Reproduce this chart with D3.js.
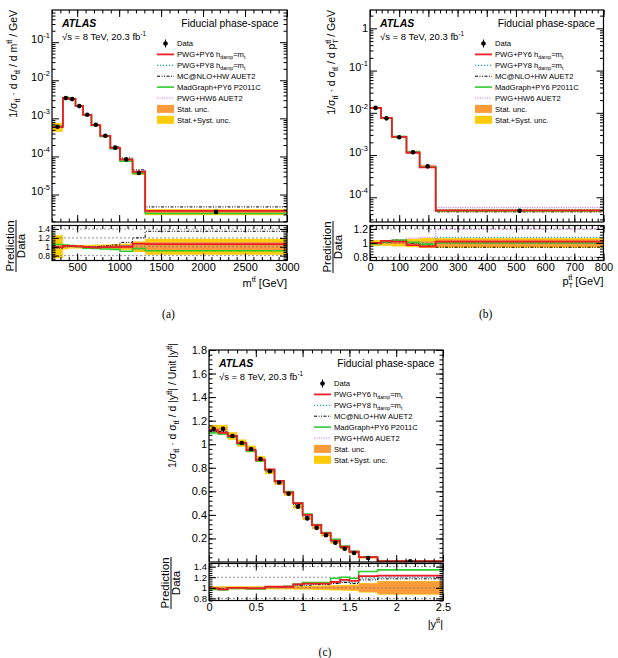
<!DOCTYPE html>
<html>
<head>
<meta charset="utf-8">
<script src="https://cdn.jsdelivr.net/npm/d3@7"></script>
<style>
  body { margin: 0; background: #fff; }
  svg text { font-family: "Liberation Sans", Arial, sans-serif; fill: #000; }
</style>
</head>
<body>
<svg id="fig" width="618" height="658"></svg>
<script>
// ---- m(tt) panel ----
const mttEdges = [200, 330, 400, 480, 570, 670, 775, 895, 1010, 1160, 1310, 3000];
const mttData = [6.0e-4, 3.4e-3, 3.2e-3, 2.1e-3, 1.24e-3, 6.8e-4, 3.5e-4, 1.7e-4, 8.3e-5, 3.7e-5, 3.5e-6];
const mttStat = [0.03, 0.01, 0.01, 0.01, 0.012, 0.015, 0.02, 0.03, 0.04, 0.08, 0.1];
const mttTotal = [0.26, 0.06, 0.04, 0.04, 0.04, 0.05, 0.05, 0.06, 0.07, 0.12, 0.18];
const mttPwgPy6 = [0.99, 1.02, 1.02, 1.01, 0.99, 0.98, 0.99, 0.99, 1.0, 1.07, 1.06];
const mttPwgPy8 = [0.98, 1.01, 1.02, 1.01, 1.0, 0.99, 1.0, 1.0, 1.02, 1.06, 1.05];
const mttMcnlo = [0.97, 1.0, 1.01, 1.01, 1.0, 1.0, 1.02, 1.04, 1.1, 1.2, 1.35];
const mttMadgraph = [1.05, 1.04, 1.03, 1.0, 0.97, 0.96, 0.95, 0.94, 0.9, 0.96, 0.91];
const mttPwgHw6 = [0.98, 1.01, 1.02, 1.01, 1.0, 1.0, 1.0, 1.0, 1.03, 1.06, 1.08];

// ---- pT(tt) panel ----
const ptEdges = [0, 38, 75, 125, 170, 225, 800];
const ptData = [1.31e-2, 7.4e-3, 2.65e-3, 1.17e-3, 5.4e-4, 4.8e-5];
const ptStat = [0.01, 0.01, 0.015, 0.02, 0.025, 0.05];
const ptTotal = [0.04, 0.04, 0.05, 0.06, 0.07, 0.07];
const ptPwgPy6 = [1.0, 1.03, 1.02, 0.97, 0.95, 1.02];
const ptPwgPy8 = [1.0, 1.02, 1.03, 1.0, 0.99, 1.08];
const ptMcnlo = [0.99, 1.01, 1.04, 1.0, 0.96, 0.94];
const ptMadgraph = [0.99, 1.02, 1.04, 1.01, 0.98, 1.0];
const ptPwgHw6 = [1.0, 1.01, 1.05, 1.07, 1.08, 1.2];

// ---- |y(tt)| panel ----
const yEdges = [0, 0.1, 0.2, 0.3, 0.4, 0.5, 0.6, 0.7, 0.8, 0.9, 1.0, 1.1, 1.2, 1.3, 1.4, 1.5, 1.6, 1.8, 2.5];
const yData = [1.13, 1.13, 1.07, 1.01, 0.96, 0.875, 0.77, 0.675, 0.58, 0.47, 0.37, 0.29, 0.227, 0.164, 0.113, 0.077, 0.034, 0.006];
const yStat = [0.01, 0.01, 0.01, 0.01, 0.01, 0.01, 0.01, 0.015, 0.015, 0.015, 0.02, 0.02, 0.025, 0.03, 0.035, 0.04, 0.08, 0.12];
const yTotal = [0.03, 0.03, 0.03, 0.03, 0.03, 0.03, 0.03, 0.03, 0.03, 0.035, 0.035, 0.04, 0.045, 0.05, 0.055, 0.06, 0.09, 0.13];
const yPwgPy6 = [0.99, 0.97, 1.0, 1.0, 0.99, 0.99, 1.02, 1.02, 1.02, 1.065, 1.08, 1.08, 1.08, 1.11, 1.15, 1.13, 1.22, 1.23];
const yPwgPy8 = [0.98, 0.97, 1.0, 1.0, 0.99, 0.99, 1.01, 1.02, 1.02, 1.05, 1.07, 1.07, 1.07, 1.09, 1.12, 1.1, 1.18, 1.2];
const yMcnlo = [0.98, 0.98, 1.0, 1.0, 0.99, 0.99, 1.01, 1.01, 1.02, 1.04, 1.05, 1.06, 1.06, 1.08, 1.1, 1.08, 1.15, 1.17];
const yMadgraph = [0.97, 0.96, 0.99, 0.99, 0.98, 0.98, 1.01, 1.02, 1.03, 1.07, 1.1, 1.1, 1.1, 1.18, 1.2, 1.18, 1.31, 1.34];
const yPwgHw6 = [0.99, 0.98, 1.0, 1.0, 0.99, 1.0, 1.02, 1.02, 1.03, 1.06, 1.08, 1.08, 1.09, 1.12, 1.15, 1.14, 1.21, 1.22];

const legendNames = [
  [['PWG+PY6 h'], ['damp', 'sub'], ['=m'], ['t', 'sub']],
  [['PWG+PY8 h'], ['damp', 'sub'], ['=m'], ['t', 'sub']],
  [['MC@NLO+HW AUET2']],
  [['MadGraph+PY6 P2011C']],
  [['PWG+HW6 AUET2']]
];

// line styles, same order as legendNames
const STYLES = [
  { color: '#ee1c25', width: 1.8, dash: null },
  { color: '#1aa6a6', width: 1.2, dash: '1.2,1.8' },
  { color: '#000', width: 1, dash: '3,1.5,1,1.5,1,1.5' },
  { color: '#2ecc2e', width: 1.6, dash: null },
  { color: '#d67ad6', width: 1, dash: '1.2,1.2' }
];
const DRAW_ORDER = [4, 1, 2, 3, 0];
const STAT_COL = '#fd9a3a';
const TOT_COL = '#fecb0a';
const TT = 'tt\u0304';

const svg = d3.select('#fig');

// text with sub/superscripts: parts = [[string, 'sub'|'sup'|undefined, dx]]
function rich(text, parts, size) {
  let cur = 0;
  text.attr('font-size', size);
  for (const [s, kind, dx] of parts) {
    const off = kind === 'sub' ? 0.3 * size : kind === 'sup' ? -0.42 * size : 0;
    const t = text.append('tspan')
      .attr('dy', (off - cur).toFixed(2))
      .attr('font-size', kind ? 0.68 * size : size)
      .text(s);
    if (dx) t.attr('dx', dx);
    cur = off;
  }
}

function logTicks(domain) {
  const major = [], minor = [];
  for (let e = -8; e <= 2; e++) {
    for (let k = 1; k <= 9; k++) {
      const v = k * Math.pow(10, e);
      if (v < domain[0] * 1.001 || v > domain[1] * 0.999) continue;
      (k === 1 ? major : minor).push(v);
    }
  }
  return { major, minor };
}

function stepPoints(edges, vals) {
  return vals.flatMap((v, i) => [[edges[i], v], [edges[i + 1], v]]);
}

// ticks on all four sides, pointing inward
function frameAxes(g, x, y, box, o) {
  const [x0, x1, y0, y1] = box;
  const clean = s => s.select('.domain').remove();
  const put = (axis, tr) => g.append('g').attr('transform', tr).call(axis).call(clean);

  put(d3.axisBottom(x).tickValues(o.xMinor).tickSize(-3.5).tickFormat(''), `translate(0,${y1})`);
  put(d3.axisTop(x).tickValues(o.xMinor).tickSize(-3.5).tickFormat(''), `translate(0,${y0})`);
  const xb = put(d3.axisBottom(x).tickValues(o.xMajor).tickSize(-7).tickPadding(3)
    .tickFormat(o.xLabels ? o.xFormat : ''), `translate(0,${y1})`);
  xb.selectAll('text').attr('font-size', 11);
  put(d3.axisTop(x).tickValues(o.xMajor).tickSize(-7).tickFormat(''), `translate(0,${y0})`);

  put(d3.axisLeft(y).tickValues(o.yMinor).tickSize(-3.5).tickFormat(''), `translate(${x0},0)`);
  put(d3.axisRight(y).tickValues(o.yMinor).tickSize(-3.5).tickFormat(''), `translate(${x1},0)`);
  const yl = put(d3.axisLeft(y).tickValues(o.yMajor).tickSize(-7).tickPadding(2)
    .tickFormat(o.yLog ? () => '' : o.yFormat), `translate(${x0},0)`);
  yl.selectAll('text').attr('font-size', o.yFont || 11);
  if (o.yLog) {
    yl.selectAll('.tick text').each(function (d) {
      const e = Math.round(Math.log10(d));
      if (e === 0) d3.select(this).append('tspan').text('1');
      else rich(d3.select(this), [['10'], [String(e), 'sup']], 11);
    });
  }
  put(d3.axisRight(y).tickValues(o.yMajor).tickSize(-7).tickFormat(''), `translate(${x1},0)`);
  g.selectAll('.tick line').attr('stroke', '#000').attr('stroke-width', 1);

  g.append('rect').attr('x', x0).attr('y', y0).attr('width', x1 - x0).attr('height', y1 - y0)
    .attr('fill', 'none').attr('stroke', '#000').attr('stroke-width', 1.2);
}

function drawPanel(p) {
  const g = svg.append('g');
  const x = d3.scaleLinear().domain(p.xDomain).range([p.x0, p.x1]);
  const y = (p.log ? d3.scaleLog() : d3.scaleLinear()).domain(p.yDomain).range([p.y1, p.y0]);
  const r = d3.scaleLinear().domain(p.rDomain).range([p.r1, p.r0]);

  const clipMain = 'clipm' + p.id, clipRatio = 'clipr' + p.id;
  const defs = g.append('defs');
  defs.append('clipPath').attr('id', clipMain).append('rect')
    .attr('x', p.x0).attr('y', p.y0).attr('width', p.x1 - p.x0).attr('height', p.y1 - p.y0);
  defs.append('clipPath').attr('id', clipRatio).append('rect')
    .attr('x', p.x0).attr('y', p.r0).attr('width', p.x1 - p.x0).attr('height', p.r1 - p.r0);

  const bins = p.data.map((v, i) => ({ a: p.edges[i], b: p.edges[i + 1], v, st: p.stat[i], tot: p.total[i] }));

  // ---- main pad ----
  const main = g.append('g').attr('clip-path', `url(#${clipMain})`);
  [['tot', TOT_COL], ['st', STAT_COL]].forEach(([k, col]) => {
    main.selectAll('rect.' + k).data(bins).join('rect').attr('class', k)
      .attr('x', d => x(d.a)).attr('width', d => x(d.b) - x(d.a))
      .attr('y', d => y(d.v * (1 + d[k])))
      .attr('height', d => y(d.v * (1 - d[k])) - y(d.v * (1 + d[k])))
      .attr('fill', col);
  });
  const lineMain = d3.line().x(d => x(d[0])).y(d => y(d[1]));
  DRAW_ORDER.forEach(m => {
    const s = STYLES[m];
    const pred = p.data.map((v, i) => v * p.ratios[m][i]);
    main.append('path').attr('d', lineMain(stepPoints(p.edges, pred)))
      .attr('fill', 'none').attr('stroke', s.color).attr('stroke-width', s.width)
      .attr('stroke-dasharray', s.dash);
  });
  const pts = main.selectAll('g.pt').data(bins).join('g').attr('class', 'pt');
  pts.append('line')
    .attr('x1', d => x((d.a + d.b) / 2)).attr('x2', d => x((d.a + d.b) / 2))
    .attr('y1', d => y(d.v * (1 + d.st))).attr('y2', d => y(d.v * (1 - d.st)))
    .attr('stroke', '#000').attr('stroke-width', 1);
  pts.append('circle').attr('cx', d => x((d.a + d.b) / 2)).attr('cy', d => y(d.v))
    .attr('r', 2.3).attr('fill', '#000');

  frameAxes(g, x, y, [p.x0, p.x1, p.y0, p.y1], {
    xMajor: p.xMajor, xMinor: p.xMinor, xLabels: false,
    yMajor: p.yMajor, yMinor: p.yMinor, yLog: p.log, yFormat: p.yFormat
  });

  // ---- ratio pad ----
  const rat = g.append('g').attr('clip-path', `url(#${clipRatio})`);
  [['tot', TOT_COL], ['st', STAT_COL]].forEach(([k, col]) => {
    rat.selectAll('rect.' + k).data(bins).join('rect').attr('class', k)
      .attr('x', d => x(d.a)).attr('width', d => x(d.b) - x(d.a))
      .attr('y', d => r(1 + d[k])).attr('height', d => r(1 - d[k]) - r(1 + d[k]))
      .attr('fill', col);
  });
  rat.selectAll('line.grid').data(p.rGrid).join('line').attr('class', 'grid')
    .attr('x1', p.x0).attr('x2', p.x1).attr('y1', d => r(d)).attr('y2', d => r(d))
    .attr('stroke', '#777').attr('stroke-width', 0.8).attr('stroke-dasharray', '2,2');
  const lineRatio = d3.line().x(d => x(d[0])).y(d => r(d[1]));
  DRAW_ORDER.forEach(m => {
    const s = STYLES[m];
    rat.append('path').attr('d', lineRatio(stepPoints(p.edges, p.ratios[m])))
      .attr('fill', 'none').attr('stroke', s.color).attr('stroke-width', s.width)
      .attr('stroke-dasharray', s.dash);
  });

  frameAxes(g, x, r, [p.x0, p.x1, p.r0, p.r1], {
    xMajor: p.xMajor, xMinor: p.xMinor, xLabels: true, xFormat: p.xFormat,
    yMajor: p.rMajor, yMinor: p.rMinor, yLog: false, yFormat: d3.format('~g'), yFont: p.rFont
  });

  // ---- titles ----
  rich(g.append('text').attr('text-anchor', 'end')
    .attr('transform', `translate(${p.yTitleX},${p.yTitleTop}) rotate(-90)`), p.yTitle, 10.5);

  const rc = (p.r0 + p.r1) / 2 + p.rTitleShift;
  g.append('text').attr('text-anchor', 'middle').attr('font-size', 11.5)
    .attr('transform', `translate(${p.rTitleX},${rc}) rotate(-90)`).text('Prediction');
  g.append('line').attr('x1', p.rTitleX + 2.5).attr('x2', p.rTitleX + 2.5)
    .attr('y1', rc - 26).attr('y2', rc + 26).attr('stroke', '#000').attr('stroke-width', 1);
  g.append('text').attr('text-anchor', 'middle').attr('font-size', 11.5)
    .attr('transform', `translate(${p.rTitleX + 11},${rc}) rotate(-90)`).text('Data');

  rich(g.append('text').attr('text-anchor', 'end')
    .attr('x', p.x1).attr('y', p.xTitleY), p.xTitle, 11);

  g.append('text').attr('x', (p.x0 + p.x1) / 2 - 1).attr('y', p.subY)
    .attr('text-anchor', 'middle').attr('font-size', 11.5)
    .style('font-family', '"Liberation Serif", "Times New Roman", serif').text(p.label);

  // ---- labels and legend ----
  g.append('text').attr('x', p.x0 + 10).attr('y', p.y0 + 17).attr('font-size', 10.5)
    .attr('font-weight', 'bold').attr('font-style', 'italic').text('ATLAS');
  g.append('text').attr('x', p.x1 - 8.5).attr('y', p.y0 + 17).attr('font-size', 10.3)
    .attr('text-anchor', 'end').text('Fiducial phase-space');
  rich(g.append('text').attr('x', p.x0 + 10).attr('y', p.y0 + 30),
    [['\u221As = 8 TeV, 20.3 fb'], ['-1', 'sup']], 9.5);

  const lx = p.x0 + 105, tx = p.x0 + 125, ly0 = p.y0 + 33.5, dyL = 10.9;
  const leg = g.append('g').attr('font-size', 7.6);
  leg.append('line').attr('x1', lx + 8.5).attr('x2', lx + 8.5).attr('y1', ly0 - 4).attr('y2', ly0 + 4)
    .attr('stroke', '#000');
  leg.append('circle').attr('cx', lx + 8.5).attr('cy', ly0).attr('r', 2.3);
  leg.append('text').attr('x', tx).attr('y', ly0 + 2.8).text('Data');
  legendNames.forEach((parts, m) => {
    const yy = ly0 + dyL * (m + 1);
    const s = STYLES[m];
    leg.append('line').attr('x1', lx).attr('x2', lx + 17).attr('y1', yy).attr('y2', yy)
      .attr('stroke', s.color).attr('stroke-width', s.width).attr('stroke-dasharray', s.dash);
    rich(leg.append('text').attr('x', tx).attr('y', yy + 2.8), parts, 7.6);
  });
  [['Stat. unc.', STAT_COL], ['Stat.+Syst. unc.', TOT_COL]].forEach(([name, col], k) => {
    const yy = ly0 + dyL * (6 + k);
    leg.append('rect').attr('x', lx).attr('y', yy - 4).attr('width', 17).attr('height', 8).attr('fill', col);
    leg.append('text').attr('x', tx).attr('y', yy + 2.8).text(name);
  });
}

const mttLog = logTicks([1.9e-6, 0.7]);
const ptLog = logTicks([2.6e-5, 2.72]);

const sigmaTitle = [['1/\u03C3'], [TT, 'sub'], [' \u00B7 d \u03C3'], [TT, 'sub']];

drawPanel({
  id: 'a', label: '(a)',
  x0: 52, x1: 287, y0: 10, y1: 222, r0: 225.5, r1: 260.5,
  xDomain: [200, 3000], yDomain: [1.9e-6, 0.7], log: true, rDomain: [0.69, 1.48],
  edges: mttEdges, data: mttData, stat: mttStat, total: mttTotal,
  ratios: [mttPwgPy6, mttPwgPy8, mttMcnlo, mttMadgraph, mttPwgHw6],
  xMajor: d3.range(500, 3001, 500), xMinor: d3.range(200, 3001, 100), xFormat: d3.format('d'),
  yMajor: mttLog.major, yMinor: mttLog.minor,
  rMajor: [0.8, 1, 1.2, 1.4], rMinor: d3.range(0.72, 1.48, 0.04), rGrid: [0.8, 1, 1.2, 1.4], rFont: 8.5,
  yTitle: sigmaTitle.concat([[' / d m'], [TT, 'sup'], [' / GeV']]),
  yTitleX: 16.5, yTitleTop: 10, rTitleX: 13.5, rTitleShift: 3,
  xTitle: [['m'], [TT, 'sup'], [' [GeV]']], xTitleY: 287, subY: 318
});

drawPanel({
  id: 'b', label: '(b)',
  x0: 370, x1: 603.5, y0: 10, y1: 222, r0: 225.5, r1: 260.5,
  xDomain: [0, 800], yDomain: [2.6e-5, 2.72], log: true, rDomain: [0.75, 1.25],
  edges: ptEdges, data: ptData, stat: ptStat, total: ptTotal,
  ratios: [ptPwgPy6, ptPwgPy8, ptMcnlo, ptMadgraph, ptPwgHw6],
  xMajor: d3.range(0, 801, 100), xMinor: d3.range(0, 801, 20), xFormat: d3.format('d'),
  yMajor: ptLog.major, yMinor: ptLog.minor,
  rMajor: [0.8, 1, 1.2], rMinor: d3.range(0.76, 1.25, 0.04), rGrid: [0.8, 1, 1.2], rFont: 10.5,
  yTitle: sigmaTitle.concat([[' / d p'], ['T', 'sub'], [TT, 'sup', -4.5], [' / GeV']]),
  yTitleX: 335, yTitleTop: 10, rTitleX: 330.5, rTitleShift: 4,
  xTitle: [['p'], ['T', 'sub'], [TT, 'sup', -5], [' [GeV]']], xTitleY: 285, subY: 318
});

drawPanel({
  id: 'c', label: '(c)',
  x0: 209, x1: 443, y0: 350, y1: 562, r0: 563.5, r1: 600.5,
  xDomain: [0, 2.5], yDomain: [0, 1.8], log: false, rDomain: [0.76, 1.46],
  edges: yEdges, data: yData, stat: yStat, total: yTotal,
  ratios: [yPwgPy6, yPwgPy8, yMcnlo, yMadgraph, yPwgHw6],
  xMajor: d3.range(0, 2.51, 0.5), xMinor: d3.range(0, 2.51, 0.1), xFormat: d3.format('~g'),
  yMajor: d3.range(0.2, 1.81, 0.2), yMinor: d3.range(0.04, 1.8, 0.04), yFormat: d3.format('~g'),
  rMajor: [0.8, 1, 1.2, 1.4], rMinor: d3.range(0.76, 1.46, 0.04), rGrid: [0.8, 1, 1.2, 1.4], rFont: 9.5,
  yTitle: sigmaTitle.concat([[' / d |y'], [TT, 'sup'], ['| / Unit |y'], [TT, 'sup'], ['|']]),
  yTitleX: 176, yTitleTop: 343, rTitleX: 168.5, rTitleShift: 1,
  xTitle: [['|y'], [TT, 'sup'], ['|']], xTitleY: 628, subY: 656
});
</script>
</body>
</html>
